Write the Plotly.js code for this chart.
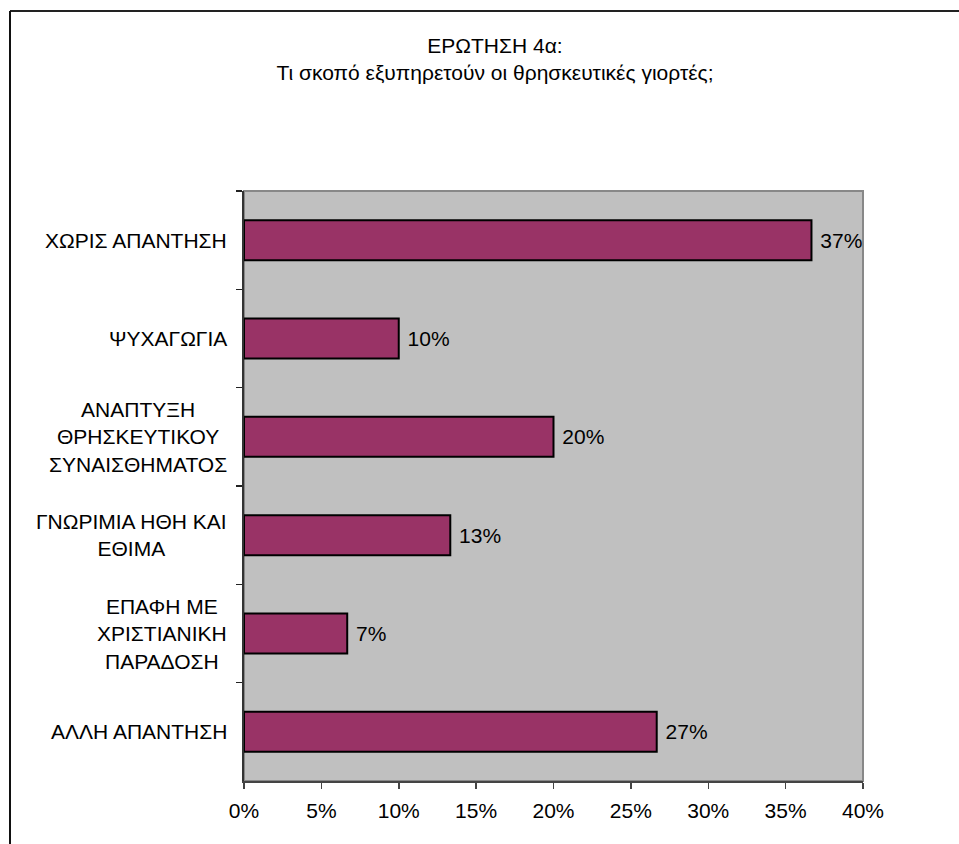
<!DOCTYPE html>
<html>
<head>
<meta charset="utf-8">
<script src="https://cdn.plot.ly/plotly-3.0.1.min.js"></script>
<style>html,body{margin:0;padding:0;background:#fff;}#chart{width:959px;height:844px;}</style>
</head>
<body>
<div id="chart"></div>
<script>
// Categories, top to bottom
const categories = [
  "ΧΩΡΙΣ ΑΠΑΝΤΗΣΗ",
  "ΨΥΧΑΓΩΓΙΑ",
  "ΑΝΑΠΤΥΞΗ<br>ΘΡΗΣΚΕΥΤΙΚΟΥ<br>ΣΥΝΑΙΣΘΗΜΑΤΟΣ",
  "ΓΝΩΡΙΜΙΑ ΗΘΗ ΚΑΙ<br>ΕΘΙΜΑ",
  "ΕΠΑΦΗ ΜΕ<br>ΧΡΙΣΤΙΑΝΙΚΗ<br>ΠΑΡΑΔΟΣΗ",
  "ΑΛΛΗ ΑΠΑΝΤΗΣΗ"
];
const values = [0.3667, 0.10, 0.20, 0.1333, 0.0667, 0.2667];
const tickValues = [0, 0.05, 0.10, 0.15, 0.20, 0.25, 0.30, 0.35, 0.40];
const tickLabels = ["0%", "5%", "10%", "15%", "20%", "25%", "30%", "35%", "40%"];
const titleText = "ΕΡΩΤΗΣΗ 4α:<br>Τι σκοπό εξυπηρετούν οι θρησκευτικές γιορτές;";

const FONT = "Arial, 'Liberation Sans', sans-serif";
const FS = 21;
const W = 959, H = 844, L = 244, R = 96, T = 191, B = 63;
const pw = W - L - R, ph = H - T - B;
const px = x => (x - L) / pw;
const py = y => (H - B - y) / ph;

const trace = {
  type: "bar",
  orientation: "h",
  y: categories,
  x: values,
  marker: {color: "#993366", line: {color: "#000000", width: 2}},
  text: values,
  texttemplate: "\u00a0%{x:.0%}",
  textposition: "outside",
  textfont: {family: FONT, size: FS, color: "#000"},
  cliponaxis: false,
  hoverinfo: "skip"
};

const annotations = categories.map(c => ({
  xref: "paper", yref: "y", x: px(229), y: c,
  xanchor: "right", yanchor: "middle", align: "center",
  text: c, showarrow: false,
  font: {family: FONT, size: FS, color: "#000"}
}));

const layout = {
  width: W, height: H,
  margin: {l: L, r: R, t: T, b: B},
  paper_bgcolor: "#ffffff",
  plot_bgcolor: "#c0c0c0",
  showlegend: false,
  bargap: 0.593,
  title: {
    text: titleText,
    font: {family: FONT, size: FS, color: "#000"},
    xref: "container", x: 495 / W, xanchor: "center",
    yref: "container", y: 1 - 53 / H, yanchor: "middle"
  },
  xaxis: {
    range: [0, 0.40],
    tickvals: tickValues,
    ticktext: tickLabels,
    ticks: "outside", ticklen: 6, tickwidth: 1.5, tickcolor: "#444",
    showgrid: false, zeroline: false,
    showline: true, linecolor: "#444", linewidth: 1.5,
    tickfont: {family: FONT, size: FS, color: "#000"},
    ticklabelstandoff: 4,
    fixedrange: true
  },
  yaxis: {
    type: "category",
    autorange: "reversed",
    tickson: "boundaries",
    ticks: "outside", ticklen: 6, tickwidth: 1.5, tickcolor: "#222",
    showticklabels: false,
    showgrid: false, zeroline: false,
    showline: true, linecolor: "#333", linewidth: 2,
    fixedrange: true
  },
  annotations: annotations,
  shapes: [
    {type: "rect", xref: "paper", yref: "paper", x0: 0, x1: 1, y0: 0, y1: 1,
     line: {color: "#888888", width: 2}, fillcolor: "rgba(0,0,0,0)", layer: "below"},
    {type: "line", xref: "paper", yref: "paper", x0: px(10), x1: px(W + 5), y0: py(11), y1: py(11),
     line: {color: "#222", width: 2}},
    {type: "line", xref: "paper", yref: "paper", x0: px(10), x1: px(10), y0: py(11), y1: py(H + 5),
     line: {color: "#111", width: 2}}
  ]
};

Plotly.newPlot("chart", [trace], layout, {displayModeBar: false, staticPlot: true});
</script>
</body>
</html>
